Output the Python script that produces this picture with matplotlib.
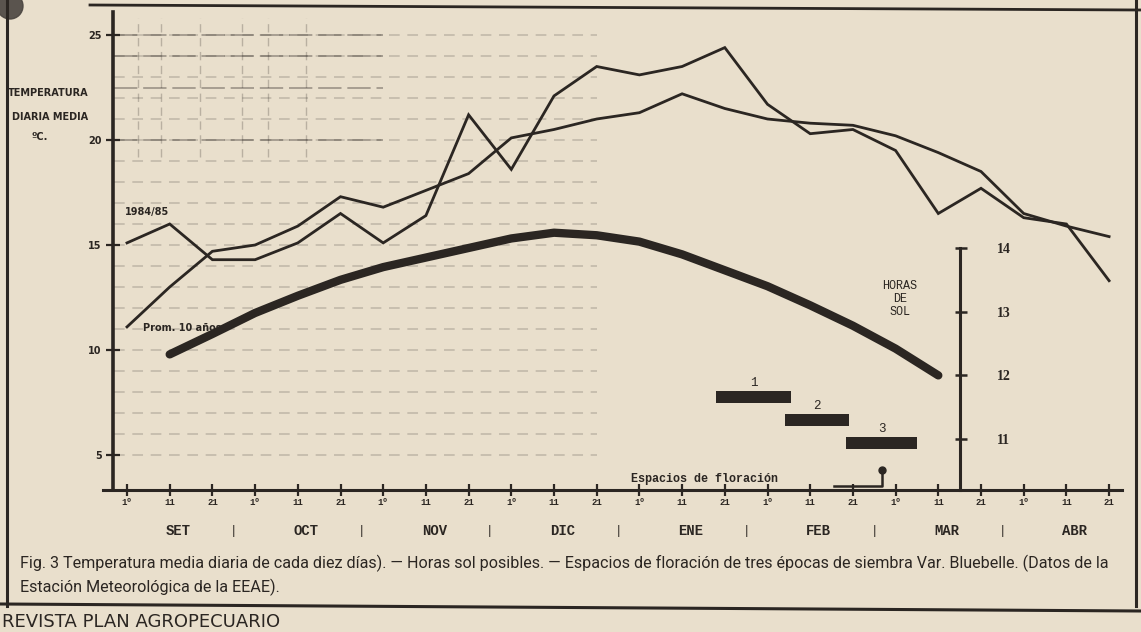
import matplotlib
matplotlib.use("Agg")
import matplotlib.pyplot as plt
from matplotlib.patches import Ellipse
from matplotlib.lines import Line2D
import numpy as np

# ---------------- data ----------------
months = ["SET", "OCT", "NOV", "DIC", "ENE", "FEB", "MAR", "ABR"]
decades = ["1º", "11", "21"]
tick_labels = [d for m in months for d in decades]

temp_1984 = [15.1, 16.0, 14.3, 14.3, 15.1, 16.5, 15.1, 16.4, 21.2, 18.6, 22.1, 23.5,
             23.1, 23.5, 24.4, 21.7, 20.3, 20.5, 19.5, 16.5, 17.7, 16.3, 16.0, 13.3]
temp_prom = [11.1, 13.0, 14.7, 15.0, 15.9, 17.3, 16.8, 17.6, 18.4, 20.1, 20.5, 21.0,
             21.3, 22.2, 21.5, 21.0, 20.8, 20.7, 20.2, 19.4, 18.5, 16.5, 15.9, 15.4]
# hours of sun, from the 2nd decade of SET to the 2nd decade of MAR
horas_sol = [12.33, 12.65, 12.98, 13.25, 13.50, 13.70, 13.85, 14.00, 14.15, 14.24,
             14.20, 14.10, 13.90, 13.65, 13.40, 13.10, 12.78, 12.42, 12.00]
flor_labels = ["1", "2", "3"]
flor_inicio = [13.8, 15.4, 16.85]
flor_fin = [15.55, 16.9, 18.5]
flor_horas = [11.66, 11.30, 10.94]
temp_ticks = [5, 10, 15, 20, 25]
horas_ticks = [11, 12, 13, 14]

# ---------------- style ----------------
BG = "#e9dfcc"
INK = "#2b2622"
W, H = 1141, 632


def fx(x):
    return x / W


def fy(y):
    return 1 - y / H


X0PX, DX = 127.0, 42.7          # pixel of first tick, pixels per decade
T5PX, TPX = 455.0, 21.0         # pixel of 5 degC, pixels per degC
H14PX, HPX = 248.0, 63.7        # pixel of 14 h, pixels per hour
L, R, TOP, BOT = 103, 1122, 12, 490

fig = plt.figure(figsize=(W / 100, H / 100), dpi=100, facecolor=BG)

ax = fig.add_axes([fx(L), fy(BOT), fx(R) - fx(L), fy(TOP) - fy(BOT)])
ax.set_facecolor("none")
ax.set_xlim((L - X0PX) / DX, (R - X0PX) / DX)
ax.set_ylim(5 + (T5PX - BOT) / TPX, 5 + (T5PX - TOP) / TPX)
for s in ["top", "right"]:
    ax.spines[s].set_visible(False)
ax.spines["left"].set_position(("data", (113 - X0PX) / DX))
ax.spines["left"].set_linewidth(2.6)
ax.spines["left"].set_color(INK)
ax.spines["bottom"].set_linewidth(2.2)
ax.spines["bottom"].set_color(INK)

x = np.arange(len(temp_1984))
ax.set_xticks(x)
ax.set_xticklabels(tick_labels, fontsize=6.5, fontweight="bold", color=INK,
                   family="Liberation Mono")
ax.tick_params(axis="x", direction="inout", length=9, width=1.6, colors=INK, pad=1)
ax.set_yticks(temp_ticks)
ax.set_yticklabels([str(t) for t in temp_ticks], fontsize=7, fontweight="bold",
                   color=INK)
ax.tick_params(axis="y", direction="inout", length=10, width=1.6, colors=INK, pad=3)

# faded printed grid (upper left)
grid_levels = np.arange(5, 26)
ax.hlines(grid_levels, -0.3, 11.0, colors=INK, linewidth=1.1, alpha=0.22,
          linestyles=(0, (7, 5)))
ax.hlines([20, 22.5, 24, 25], -0.3, 6.0, colors=INK, linewidth=1.4, alpha=0.35,
          linestyles=(0, (12, 3)))
ax.vlines([0.25, 0.8, 1.7, 2.7, 3.3, 4.2], 19.2, 25.8, colors=INK, linewidth=1.0,
          alpha=0.25, linestyles=(0, (6, 4)))

# temperature lines
ax.plot(x, temp_1984, color=INK, lw=2.0, solid_joinstyle="miter")
ax.plot(x, temp_prom, color=INK, lw=2.0, solid_joinstyle="miter")
ax.text(-0.05, 16.35, "1984/85", fontsize=7, fontweight="bold", color=INK,
        ha="left", va="bottom")
ax.text(0.38, 11.05, "Prom. 10 años", fontsize=7, fontweight="bold", color=INK,
        ha="left", va="center")

# hours axis (shared pixel frame)
ax2 = ax.twinx()
ax2.set_ylim(14 - (BOT - H14PX) / HPX, 14 + (H14PX - TOP) / HPX)
for s in ax2.spines.values():
    s.set_visible(False)
ax2.set_yticks([])
xs = np.arange(1, 1 + len(horas_sol))
ax2.plot(xs, horas_sol, color=INK, lw=6, solid_capstyle="round",
         solid_joinstyle="round")

for lab, a, b, h in zip(flor_labels, flor_inicio, flor_fin, flor_horas):
    ax2.barh(h, b - a, left=a, height=0.2, color=INK)
    ax2.text((a + b) / 2, h + 0.13, lab, fontsize=9, family="Liberation Mono",
             color=INK, ha="center", va="bottom")

ax2.text(18.1, 13.2, "HORAS\nDE\nSOL", fontsize=8.5, family="Liberation Mono",
         color=INK, ha="center", va="center", linespacing=1.15)
ax2.text(11.8, 10.37, "Espacios de floración", fontsize=8.5,
         family="Liberation Mono", fontweight="bold", color=INK, ha="left",
         va="center")
ax2.plot([16.55, 17.68, 17.68], [10.26, 10.26, 10.52], color=INK, lw=1.8)
ax2.plot([17.68], [10.52], "o", color=INK, ms=5)

# right hours scale
ax3 = fig.add_axes([fx(960), fy(BOT), 0.0005, fy(H14PX) - fy(BOT)])
ax3.set_facecolor("none")
ax3.set_ylim(14 - (BOT - H14PX) / HPX, 14)
ax3.set_xticks([])
for s in ["top", "bottom", "right"]:
    ax3.spines[s].set_visible(False)
ax3.spines["left"].set_linewidth(2.2)
ax3.spines["left"].set_color(INK)
ax3.yaxis.tick_right()
ax3.set_yticks(horas_ticks)
ax3.set_yticklabels([str(h) for h in horas_ticks], fontsize=10, fontweight="bold",
                    family="Liberation Serif", color=INK)
ax3.tick_params(axis="y", direction="inout", length=9, width=1.8, colors=INK, pad=22)

# month labels
trans = ax.get_xaxis_transform()
for k, m in enumerate(months):
    ax.text(3 * k + 1.2, -0.085, m, transform=trans, fontsize=10, fontweight="bold",
            family="Liberation Mono", color=INK, ha="center", va="center")
    if k > 0:
        ax.text(3 * k - 0.5, -0.085, "|", transform=trans, fontsize=9,
                family="Liberation Mono", color=INK, ha="center", va="center")

# left axis title
fig.text(fx(8), fy(93), "TEMPERATURA", fontsize=7, fontweight="bold", color=INK,
         va="center", ha="left", family="DejaVu Sans")
fig.text(fx(12), fy(117), "DIARIA MEDIA", fontsize=7, fontweight="bold", color=INK,
         va="center", ha="left", family="DejaVu Sans")
fig.text(fx(32), fy(137), "ºC.", fontsize=7, fontweight="bold", color=INK,
         va="center", ha="left", family="DejaVu Sans")

# caption
cap1 = ("Fig. 3 Temperatura media diaria de cada diez días). — Horas sol posibles. — "
        "Espacios de floración de tres épocas de siembra Var. Bluebelle. (Datos de la")
cap2 = "Estación Meteorológica de la EEAE)."
fig.text(fx(20), fy(563), cap1, fontsize=11.6, family="Roboto", color=INK,
         va="center")
fig.text(fx(20), fy(587), cap2, fontsize=11.6, family="Roboto", color=INK,
         va="center")

# page frame & bits
fig.add_artist(Line2D([fx(7), fx(7)], [fy(0), fy(606)], color=INK, lw=2.2))
fig.add_artist(Line2D([fx(1136), fx(1136)], [fy(0), fy(606)], color=INK, lw=2.2))
fig.add_artist(Line2D([fx(90), fx(1141)], [fy(5), fy(10)], color=INK, lw=2.0))
fig.add_artist(Line2D([fx(0), fx(1141)], [fy(604), fy(611)], color=INK, lw=2.2))
fig.add_artist(Ellipse((fx(10), fy(6)), 26 / W, 26 / H, transform=fig.transFigure,
                       color="#4a4540", alpha=0.9))
fig.text(fx(2), fy(631), "REVISTA PLAN AGROPECUARIO", fontsize=13, color=INK,
         va="bottom", ha="left", family="DejaVu Sans")

fig.savefig("out.png", dpi=100, facecolor=BG)
